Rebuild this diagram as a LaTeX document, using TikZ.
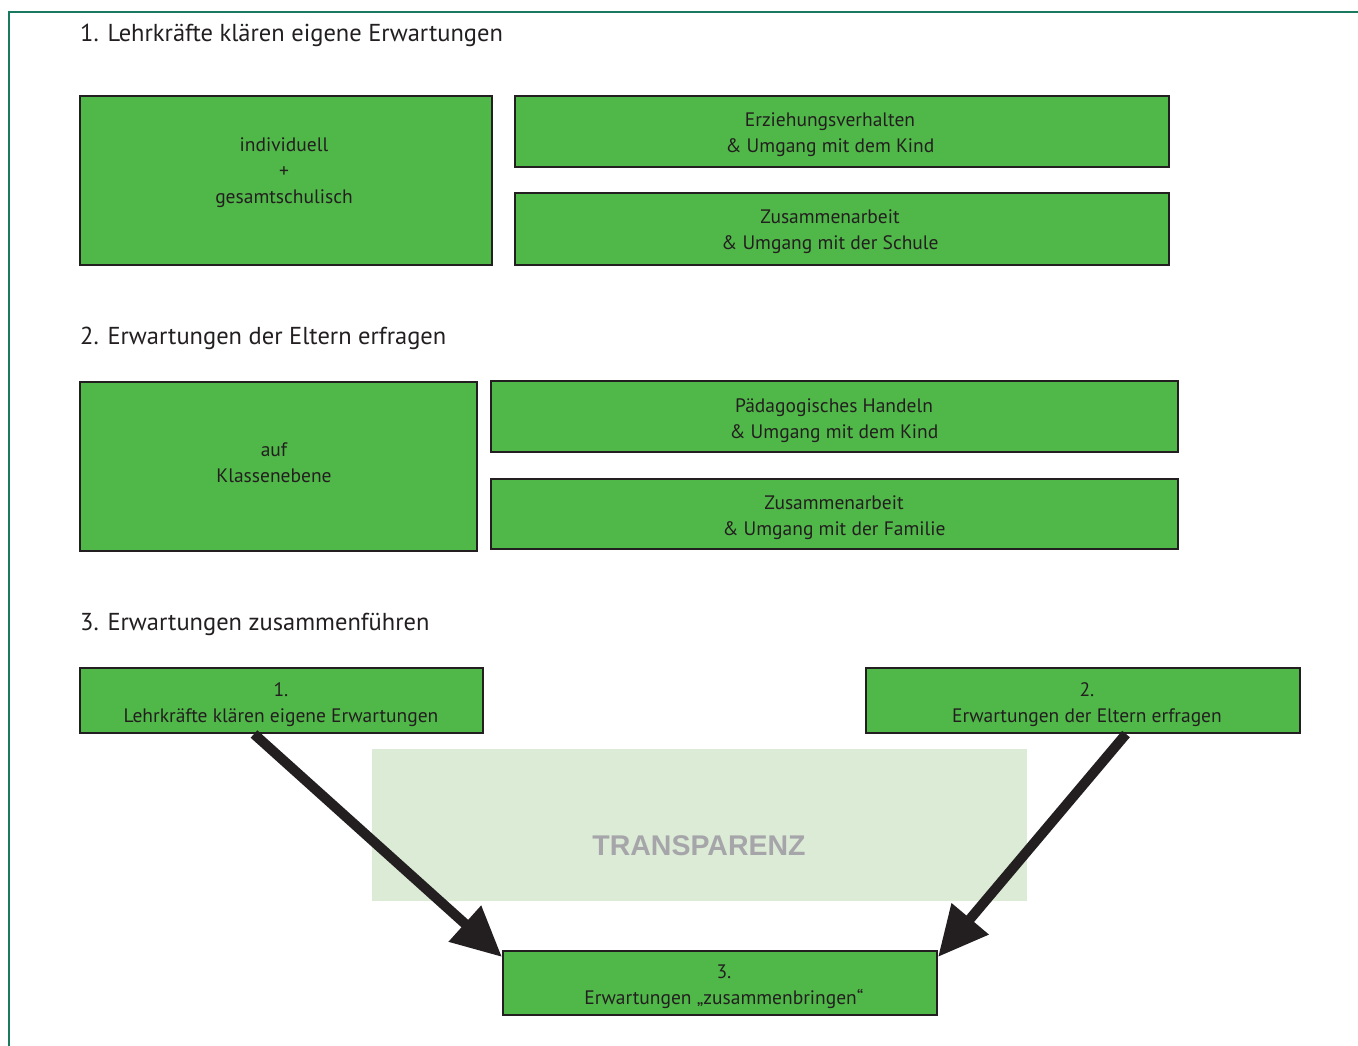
\documentclass[tikz,border=0pt]{standalone}
\usepackage{fontspec}
\setmainfont{PT Sans}
\newfontfamily\transfont{Liberation Sans}
\usetikzlibrary{arrows.meta,calc}
\definecolor{boxgreen}{RGB}{80,184,72}
\definecolor{boxline}{RGB}{35,31,32}
\definecolor{frameline}{RGB}{26,122,96}
\definecolor{lightgreen}{RGB}{219,235,213}
\definecolor{transgray}{RGB}{166,166,170}
\tikzset{
  boxtext/.style={align=center, text=boxline, inner sep=0pt, font=\fontsize{19.5}{26}\selectfont},
  gbox/.style={draw=boxline, line width=2pt, fill=boxgreen, inner sep=0pt},
  heading/.style={anchor=base west, inner sep=0pt, text=boxline, font=\fontsize{24.5}{28}\selectfont},
  bigarrow/.style={draw=boxline, line width=10pt, -{Triangle[length=50pt,width=46pt]}},
}
\begin{document}
\begin{tikzpicture}[x=1pt,y=-1pt]
\useasboundingbox (0,0) rectangle (1358,1046);
% frame
\draw[frameline, line width=1.5pt] (9,1046) -- (9,12) -- (1358,12);
% headings
\node[heading] (h1) at (80,42) {1. Lehrkräfte klären eigene Erwartungen};
\node[heading] (h2) at (80,344) {2. Erwartungen der Eltern erfragen};
\node[heading] (h3) at (80,630) {3. Erwartungen zusammenführen};
% section 1
\node[gbox, minimum width=412pt, minimum height=169pt] (a1) at (286,180.5) {};
\node[boxtext] (a1t) at (284,173) {individuell\\+\\gesamtschulisch};
\node[gbox, minimum width=654pt, minimum height=71pt] (a2) at (842,131.5) {};
\node[boxtext] (a2t) at (830,134.5) {Erziehungsverhalten\\\& Umgang mit dem Kind};
\node[gbox, minimum width=654pt, minimum height=72pt] (a3) at (842,229) {};
\node[boxtext] (a3t) at (830,232) {Zusammenarbeit\\\& Umgang mit der Schule};
% section 2
\node[gbox, minimum width=397pt, minimum height=169pt] (b1) at (278.5,466.5) {};
\node[boxtext] (b1t) at (274,463) {auf\\Klassenebene};
\node[gbox, minimum width=687pt, minimum height=71pt] (b2) at (834.5,416.5) {};
\node[boxtext] (b2t) at (834,420.5) {Pädagogisches Handeln\\\& Umgang mit dem Kind};
\node[gbox, minimum width=687pt, minimum height=70pt] (b3) at (834.5,514) {};
\node[boxtext] (b3t) at (834,518) {Zusammenarbeit\\\& Umgang mit der Familie};
% section 3
\node[fill=lightgreen, minimum width=655pt, minimum height=152pt, inner sep=0pt] (tr) at (699.5,825) {};
\node[text=transgray, font=\transfont\bfseries\fontsize{28.5}{30}\selectfont] (trt) at (699,846) {TRANSPARENZ};
\node[gbox, minimum width=403pt, minimum height=65pt] (c1) at (281.5,700.5) {};
\node[boxtext] (c1t) at (281,704.5) {1.\\Lehrkräfte klären eigene Erwartungen};
\node[gbox, minimum width=434pt, minimum height=65pt] (c2) at (1083,700.5) {};
\node[boxtext] (c2t) at (1087,704.5) {2.\\Erwartungen der Eltern erfragen};
\node[gbox, minimum width=434pt, minimum height=64pt] (c3) at (720,983) {};
\node[boxtext] (c3t) at (724,987) {3.\\Erwartungen „zusammenbringen“};
% arrows
\coordinate (s1) at ([xshift=175pt]c1.south west);
\coordinate (s2) at ([xshift=261pt]c2.south west);
\draw[bigarrow] (s1) -- ([yshift=-7pt]c3.north west);
\draw[bigarrow] (s2) -- ([yshift=-7pt]c3.north east);
\end{tikzpicture}
\end{document}
